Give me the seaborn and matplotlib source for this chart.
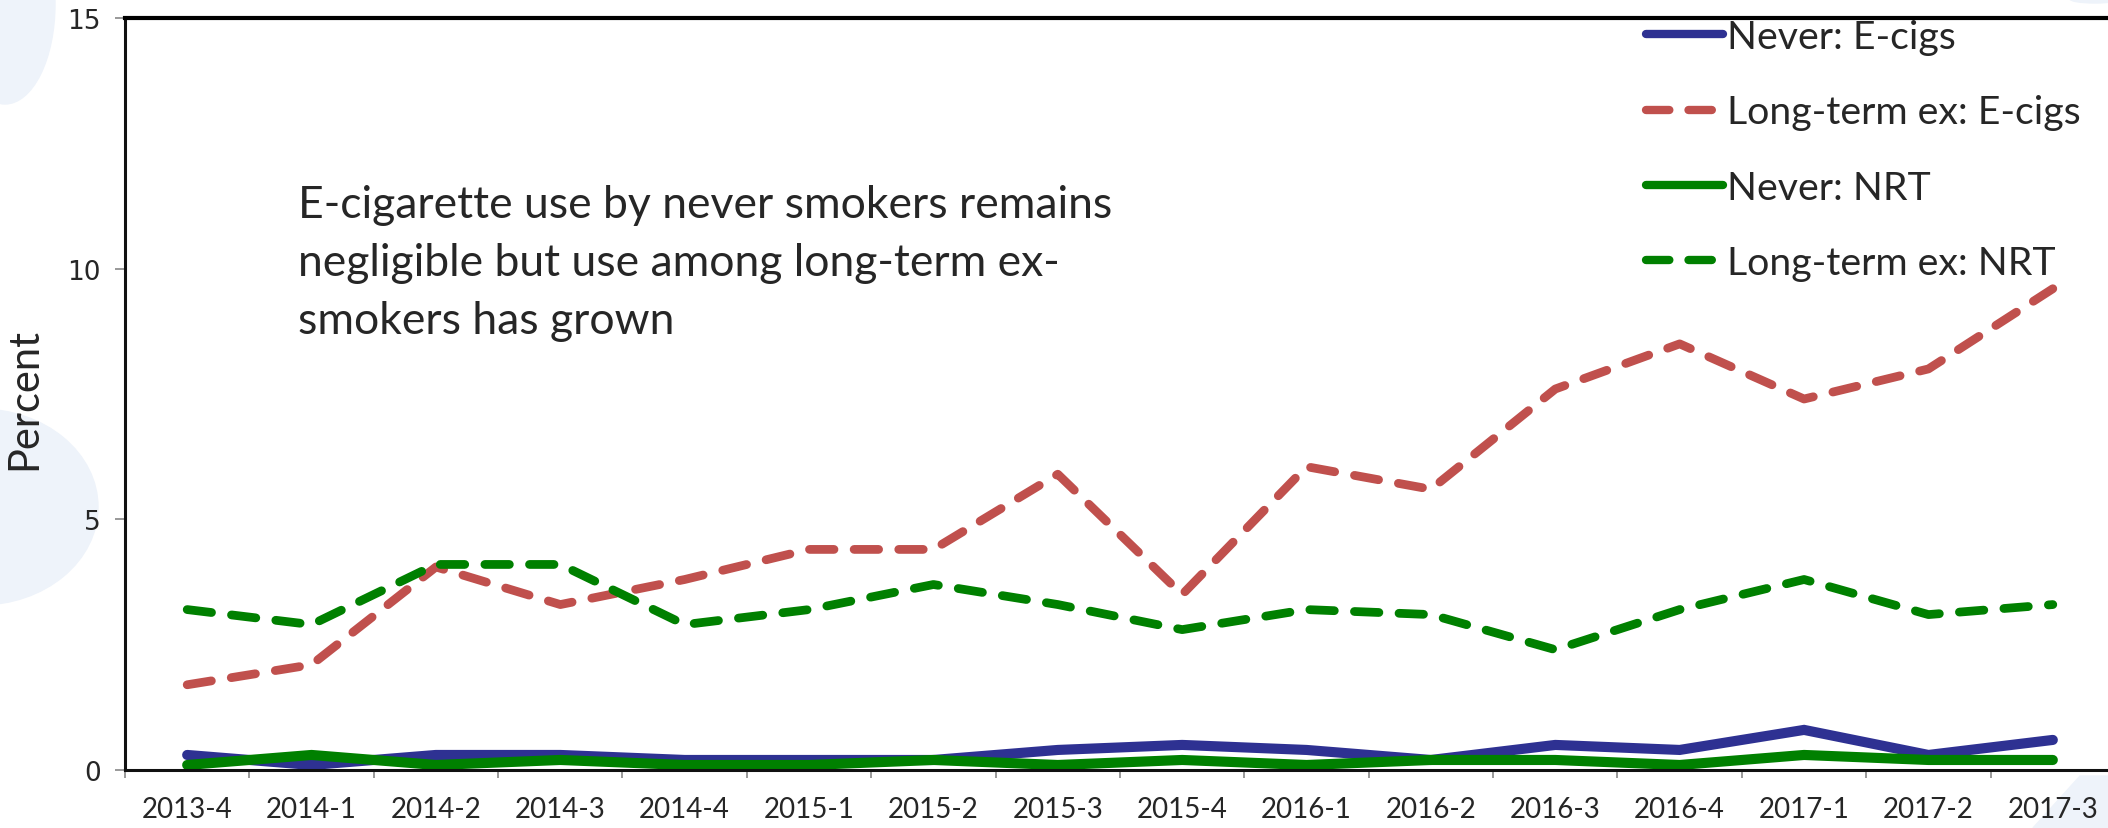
import matplotlib
matplotlib.use("Agg")
import matplotlib.pyplot as plt
from matplotlib.patches import Ellipse, Polygon
from matplotlib.ticker import FixedLocator
import seaborn as sns
import pandas as pd

# ---- data ----
quarters = ["2013-4", "2014-1", "2014-2", "2014-3", "2014-4", "2015-1", "2015-2", "2015-3",
            "2015-4", "2016-1", "2016-2", "2016-3", "2016-4", "2017-1", "2017-2", "2017-3"]
never_ecigs = [0.3, 0.1, 0.3, 0.3, 0.2, 0.2, 0.2, 0.4, 0.5, 0.4, 0.2, 0.5, 0.4, 0.8, 0.3, 0.6]
longex_ecigs = [1.7, 2.1, 4.05, 3.3, 3.8, 4.4, 4.4, 5.9, 3.5, 6.05, 5.6, 7.6, 8.5, 7.4, 8.0, 9.6]
never_nrt = [0.1, 0.3, 0.1, 0.2, 0.1, 0.1, 0.2, 0.1, 0.2, 0.1, 0.2, 0.2, 0.1, 0.3, 0.2, 0.2]
longex_nrt = [3.2, 2.9, 4.1, 4.1, 2.9, 3.2, 3.7, 3.3, 2.8, 3.2, 3.1, 2.4, 3.2, 3.8, 3.1, 3.3]
series_names = ["Never: E-cigs", "Long-term ex: E-cigs", "Never: NRT", "Long-term ex: NRT"]
yticks = [0, 5, 10, 15]
note = "E-cigarette use by never smokers remains\nnegligible but use among long-term ex-\nsmokers has grown"

sns.set_theme(style="white")
plt.rcParams["font.family"] = ["Lato", "DejaVu Sans"]

W, H = 2108, 829
fig = plt.figure(figsize=(W / 100, H / 100), dpi=100)
fig.patch.set_facecolor("white")


def px(xp, yp):
    """pixel (from top-left) -> figure fraction"""
    return (xp / W, 1 - yp / H)


# faint background decoration (behind everything)
bg = "#eef3fa"
fig.patches.append(Ellipse(px(5, 5), 100 / W, 200 / H, transform=fig.transFigure,
                           color=bg, zorder=-10))
fig.patches.append(Ellipse(px(-20, 508), 236 / W, 196 / H, transform=fig.transFigure,
                           color=bg, zorder=-10))
fig.patches.append(Polygon([px(2033, 829), px(2080, 777), px(2108, 777), px(2108, 829)],
                           closed=True, transform=fig.transFigure, color=bg, zorder=-10))
fig.patches.append(Ellipse(px(2095, 0), 50 / W, 8 / H, transform=fig.transFigure,
                           color=bg, zorder=-10))

ax = fig.add_axes([125 / W, 58 / H, 1990 / W, 752 / H])
ax.set_facecolor("white")

colors = ["#2e3192", "#c0504d", "#008000", "#008000"]
values = [never_ecigs, longex_ecigs, never_nrt, longex_nrt]
dashed = [False, True, False, True]
x = list(range(len(quarters)))
for name, vals, c, d in zip(series_names, values, colors, dashed):
    df = pd.DataFrame({"x": x, "y": vals})
    if d:
        sns.lineplot(data=df, x="x", y="y", ax=ax, color=c, lw=6.3, label=name,
                     linestyle=(0, (2.8, 2.3)), dash_capstyle="round", solid_capstyle="round",
                     solid_joinstyle="round", dash_joinstyle="round")
    else:
        sns.lineplot(data=df, x="x", y="y", ax=ax, color=c, lw=7.3, label=name,
                     solid_capstyle="round", solid_joinstyle="miter")

ax.set_xlim(-0.5, 15.5)
ax.set_ylim(0, 15)
ax.set_xlabel("")
ax.set_ylabel("")

ax.set_xticks(x)
ax.set_xticklabels(quarters, fontsize=20, family=["Lato", "DejaVu Sans"])
ax.xaxis.set_minor_locator(FixedLocator([i - 0.5 for i in range(len(quarters) + 1)]))
ax.tick_params(axis="x", which="major", length=0, pad=19)
ax.tick_params(axis="x", which="minor", length=6, width=1.2, color="#888888", bottom=True)

ax.set_yticks(yticks)
ax.set_yticklabels([str(v) for v in yticks], fontsize=19, family="DejaVu Sans")
ax.tick_params(axis="y", which="major", length=7.5, width=1.2, color="#888888", left=True, pad=10)

for side in ["left", "bottom"]:
    ax.spines[side].set_color("#111111")
    ax.spines[side].set_linewidth(2.2)
ax.spines["top"].set_color("black")
ax.spines["top"].set_linewidth(3.0)
ax.spines["right"].set_visible(False)

fig.text(*px(24, 399), "Percent", rotation=90, ha="center", va="center", fontsize=30)

ax.text(*px(298, 185), note, transform=fig.transFigure, ha="left", va="top",
        fontsize=32, linespacing=1.52)

leg = ax.legend(loc="upper left", bbox_to_anchor=px(1646, 20),
                bbox_transform=fig.transFigure, frameon=False, fontsize=28.3,
                handlelength=1.96, handletextpad=0.1, labelspacing=1.0, borderpad=0,
                borderaxespad=0)
for h in leg.get_lines():
    h.set_linewidth(6.0)

fig.savefig("out.png", dpi=100)
